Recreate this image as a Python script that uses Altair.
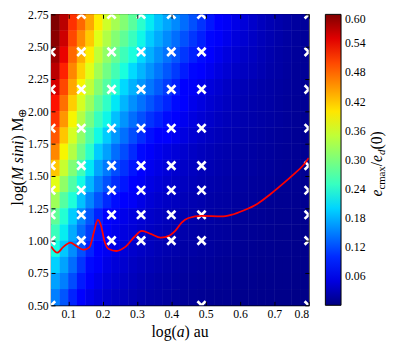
import altair as alt
import pandas as pd

# ---- heat-map grid (cell edges) ----
x_edges = [0.05, 0.075, 0.1, 0.125, 0.15, 0.175, 0.2, 0.225, 0.25, 0.275, 0.3,
           0.325, 0.35, 0.375, 0.4, 0.425, 0.45, 0.475, 0.5, 0.525, 0.55, 0.575,
           0.6, 0.625, 0.65, 0.675, 0.7, 0.725, 0.75, 0.775, 0.8]
y_edges = [2.75, 2.625, 2.5, 2.375, 2.25, 2.125, 2.0, 1.875, 1.75, 1.625, 1.5,
           1.375, 1.25, 1.125, 1.0, 0.875, 0.75, 0.625, 0.5]

# values of e_cmax/e_d(0), rows from top (2.75) to bottom (0.5)
row01 = [0.6,0.57,0.515,0.48,0.44,0.395,0.36,0.33,0.305,0.275,0.24,0.213,0.19,0.173,0.156,0.139,0.122,0.105,0.088,0.071,0.062,0.054,0.046,0.039,0.032,0.027,0.023,0.019,0.016,0.014]
row02 = [0.595,0.56,0.5,0.458,0.418,0.372,0.338,0.306,0.28,0.251,0.221,0.196,0.175,0.157,0.14,0.123,0.107,0.093,0.078,0.064,0.056,0.048,0.042,0.036,0.03,0.026,0.022,0.018,0.015,0.013]
row03 = [0.585,0.545,0.48,0.435,0.395,0.35,0.315,0.283,0.254,0.228,0.202,0.179,0.159,0.142,0.125,0.107,0.093,0.081,0.068,0.057,0.049,0.043,0.037,0.033,0.028,0.024,0.02,0.017,0.014,0.012]
row04 = [0.57,0.525,0.46,0.413,0.373,0.328,0.293,0.259,0.228,0.204,0.182,0.162,0.144,0.126,0.109,0.091,0.078,0.068,0.058,0.05,0.043,0.037,0.033,0.03,0.026,0.022,0.019,0.016,0.013,0.012]
row05 = [0.555,0.5,0.44,0.39,0.35,0.305,0.27,0.235,0.203,0.18,0.163,0.145,0.128,0.11,0.093,0.075,0.063,0.056,0.048,0.042,0.036,0.031,0.028,0.025,0.022,0.02,0.017,0.015,0.013,0.011]
row06 = [0.535,0.475,0.415,0.365,0.323,0.278,0.245,0.211,0.182,0.16,0.142,0.125,0.11,0.096,0.081,0.066,0.056,0.05,0.043,0.038,0.033,0.029,0.026,0.023,0.021,0.019,0.016,0.014,0.012,0.011]
row07 = [0.515,0.45,0.39,0.34,0.295,0.25,0.22,0.188,0.162,0.14,0.122,0.105,0.093,0.081,0.07,0.058,0.05,0.044,0.039,0.034,0.03,0.027,0.024,0.022,0.02,0.018,0.016,0.014,0.012,0.01]
row08 = [0.49,0.42,0.365,0.315,0.268,0.222,0.195,0.164,0.141,0.12,0.101,0.084,0.075,0.066,0.058,0.05,0.043,0.038,0.034,0.03,0.027,0.025,0.022,0.02,0.018,0.016,0.014,0.013,0.011,0.01]
row09 = [0.46,0.39,0.34,0.29,0.24,0.195,0.17,0.14,0.12,0.1,0.08,0.064,0.057,0.051,0.046,0.041,0.036,0.032,0.029,0.026,0.024,0.022,0.02,0.018,0.016,0.015,0.013,0.012,0.011,0.01]
row10 = [0.42,0.355,0.304,0.256,0.211,0.171,0.146,0.12,0.104,0.087,0.071,0.058,0.052,0.046,0.041,0.037,0.033,0.029,0.027,0.024,0.022,0.02,0.018,0.017,0.015,0.014,0.012,0.011,0.01,0.01]
row11 = [0.375,0.315,0.268,0.223,0.183,0.148,0.123,0.101,0.088,0.075,0.062,0.052,0.046,0.041,0.037,0.033,0.03,0.027,0.024,0.022,0.02,0.018,0.017,0.015,0.014,0.013,0.011,0.011,0.01,0.009]
row12 = [0.325,0.272,0.231,0.189,0.154,0.124,0.099,0.082,0.071,0.062,0.053,0.045,0.04,0.036,0.033,0.029,0.026,0.024,0.021,0.019,0.018,0.016,0.015,0.014,0.012,0.011,0.01,0.01,0.009,0.009]
row13 = [0.28,0.235,0.195,0.155,0.125,0.095,0.072,0.062,0.055,0.049,0.044,0.039,0.035,0.031,0.028,0.025,0.023,0.021,0.019,0.017,0.016,0.014,0.013,0.012,0.011,0.01,0.009,0.009,0.008,0.008]
row14 = [0.253,0.214,0.176,0.139,0.11,0.085,0.066,0.057,0.05,0.045,0.04,0.035,0.031,0.028,0.025,0.023,0.021,0.019,0.017,0.016,0.015,0.013,0.012,0.011,0.01,0.009,0.008,0.008,0.007,0.007]
row15 = [0.225,0.193,0.158,0.123,0.095,0.075,0.06,0.052,0.046,0.04,0.036,0.032,0.028,0.025,0.023,0.02,0.019,0.017,0.016,0.014,0.013,0.012,0.011,0.01,0.009,0.009,0.008,0.008,0.007,0.007]
row16 = [0.198,0.171,0.139,0.106,0.08,0.064,0.053,0.046,0.041,0.035,0.031,0.028,0.025,0.022,0.02,0.017,0.016,0.015,0.014,0.012,0.011,0.01,0.009,0.009,0.008,0.008,0.007,0.007,0.006,0.006]
row17 = [0.17,0.15,0.12,0.09,0.065,0.055,0.047,0.041,0.036,0.031,0.027,0.024,0.021,0.019,0.017,0.015,0.014,0.013,0.012,0.011,0.01,0.009,0.008,0.008,0.007,0.007,0.006,0.006,0.005,0.005]
row18 = [0.15,0.125,0.095,0.07,0.055,0.047,0.04,0.035,0.031,0.027,0.024,0.021,0.019,0.017,0.015,0.013,0.012,0.011,0.01,0.009,0.009,0.008,0.007,0.007,0.006,0.006,0.005,0.005,0.004,0.004]
heat_rows = [row01, row02, row03, row04, row05, row06, row07, row08, row09,
             row10, row11, row12, row13, row14, row15, row16, row17, row18]

# ---- simulation markers (white crosses) ----
marker_cols = [0.05, 0.138, 0.226, 0.312, 0.40, 0.488, 0.8]
marker_rows = [2.46, 2.17, 1.87, 1.58, 1.39, 1.20, 1.00]
top_row_y = 2.75
top_row_cols = [0.138, 0.226, 0.312, 0.40, 0.488, 0.8]
bottom_row_y = 0.5
bottom_row_cols = [0.05, 0.488, 0.8]

# ---- red curve ----
curve_x = [0.05, 0.068, 0.085, 0.106, 0.125, 0.145, 0.162, 0.174, 0.186, 0.196, 0.205,
           0.218, 0.24, 0.265, 0.293, 0.314, 0.34, 0.369, 0.395, 0.412, 0.43, 0.45,
           0.488, 0.546, 0.574, 0.612, 0.651, 0.689, 0.727, 0.756, 0.784, 0.8]
curve_y = [0.955, 0.907, 0.95, 0.985, 0.955, 0.93, 0.95, 1.06, 1.16, 1.11, 1.0,
           0.935, 0.92, 0.95, 1.03, 1.075, 1.053, 1.023, 1.04, 1.078, 1.14, 1.175,
           1.192, 1.187, 1.199, 1.235, 1.286, 1.361, 1.445, 1.513, 1.583, 1.64]

# ---- axes ----
x_ticks = [0.1, 0.2, 0.3, 0.4, 0.5, 0.6, 0.7, 0.8]
y_ticks = [0.5, 0.75, 1.0, 1.25, 1.5, 1.75, 2.0, 2.25, 2.5, 2.75]
x_title_parts = ["log(", "a", ") au"]
y_title_parts = ["log(", "M sini", ") M", "⊕"]

# ---- colour bar ----
cbar_ticks = [0.06, 0.12, 0.18, 0.24, 0.30, 0.36, 0.42, 0.48, 0.54, 0.60]
jet_stops = [0.0, 0.066, 0.075, 0.204, 0.21, 0.225, 0.384, 0.39, 0.396, 0.534, 0.546, 0.6]
jet_colors = ["#000080", "#0000ff", "#0000ff", "#00dbff", "#00e6f7", "#15ffe2",
              "#efff08", "#f7f600", "#ffec00", "#ff1300", "#e80000", "#800000"]
cbar_title_parts = ["e", "cmax", "/", "e", "d", "(0)"]

cells = []
for j, row in enumerate(heat_rows):
    for i, v in enumerate(row):
        cells.append({"x0": x_edges[i], "x1": x_edges[i + 1],
                      "y0": y_edges[j + 1], "y1": y_edges[j], "v": v})
cells = pd.DataFrame(cells)

pts = [{"x": c, "y": r} for r in marker_rows for c in marker_cols]
pts += [{"x": c, "y": top_row_y} for c in top_row_cols]
pts += [{"x": c, "y": bottom_row_y} for c in bottom_row_cols]
pts = pd.DataFrame(pts)

curve = pd.DataFrame({"x": curve_x, "y": curve_y})

FONT = "Liberation Serif"
xscale = alt.Scale(domain=[0.05, 0.8], nice=False, zero=False)
yscale = alt.Scale(domain=[0.5, 2.75], nice=False, zero=False)
cscale = alt.Scale(domain=jet_stops, range=jet_colors, interpolate="rgb", clamp=True)

label_x = alt.Axis(values=x_ticks, format=".1f", title=None, labelPadding=3,
                   labelOverlap=False, ticks=False)
label_y = alt.Axis(values=y_ticks, format=".2f", title=None, labelPadding=3,
                   labelOverlap=False, ticks=False)


def tick_axis(vals, orient):
    # inward-pointing ticks (matplotlib style): an axis moved 4px inside the frame
    return alt.Axis(values=vals, orient=orient, offset=-4, labels=False, title=None,
                    ticks=True, tickSize=4, tickColor="black", tickWidth=1,
                    domain=False, grid=False, zindex=2)


cbar_legend = alt.Legend(type="gradient", title=None, orient="right", offset=16,
                         direction="vertical",
                         gradientLength=297, gradientThickness=16,
                         gradientStrokeColor="black", gradientStrokeWidth=1,
                         values=cbar_ticks, format=".2f", labelOverlap=False,
                         labelFont=FONT, labelFontSize=12, labelOffset=4,
                         labelColor="black")

heat_base = alt.Chart(cells).mark_rect(strokeWidth=0).encode(
    x=alt.X("x0:Q", scale=xscale, axis=label_x),
    x2="x1:Q",
    y=alt.Y("y0:Q", scale=yscale, axis=label_y),
    y2="y1:Q",
    color=alt.Color("v:Q", scale=cscale, legend=cbar_legend),
)
# the cells are painted twice so that anti-aliased seams between them vanish
heat_fill = alt.Chart(cells).mark_rect(strokeWidth=0).encode(
    x=alt.X("x0:Q", scale=xscale, axis=None),
    x2="x1:Q",
    y=alt.Y("y0:Q", scale=yscale, axis=None),
    y2="y1:Q",
    color=alt.Color("v:Q", scale=cscale, legend=cbar_legend),
)

markers = alt.Chart(pts).mark_point(
    shape="M-1,-1L1,1M-1,1L1,-1", filled=False, stroke="white", strokeWidth=2.7,
    size=70, opacity=1, clip=True
).encode(x=alt.X("x:Q", scale=xscale, axis=tick_axis(x_ticks, "bottom")),
         y=alt.Y("y:Q", scale=yscale, axis=tick_axis(y_ticks, "left")))

line = alt.Chart(curve).mark_line(color="#ff0000", strokeWidth=1.8, interpolate="monotone",
                                  clip=True).encode(
    x=alt.X("x:Q", scale=xscale, axis=tick_axis(x_ticks, "top")),
    y=alt.Y("y:Q", scale=yscale, axis=tick_axis(y_ticks, "right")))

one = pd.DataFrame({"k": [0]})


def text_piece(txt, fs, ital, tx, ty, angle=0):
    return alt.Chart(one).mark_text(
        text=txt, font=FONT, fontSize=fs, fontStyle="italic" if ital else "normal",
        angle=angle, align="left", baseline="alphabetic", color="black"
    ).encode(x=alt.value(tx), y=alt.value(ty))


texts = [
    # x-axis title: log(a) au
    text_piece(x_title_parts[0], 16, False, 102.5, 329),
    text_piece(x_title_parts[1], 16, True, 128.3, 329),
    text_piece(x_title_parts[2], 16, False, 136.3, 329),
    # y-axis title: log(M sini) M_⊕ (rotated)
    text_piece(y_title_parts[0], 16, False, -29, 195.0, 270),
    text_piece(y_title_parts[1], 16, True, -29, 169.2, 270),
    text_piece(y_title_parts[2], 16, False, -29, 128.8, 270),
    text_piece(y_title_parts[3], 11, False, -26, 105.3, 270),
    # colour-bar title: e_cmax / e_d(0) (rotated)
    text_piece(cbar_title_parts[0], 16, True, 338, 186.0, 270),
    text_piece(cbar_title_parts[1], 11, False, 341, 178.9, 270),
    text_piece(cbar_title_parts[2], 16, False, 338, 155.1, 270),
    text_piece(cbar_title_parts[3], 16, True, 338, 150.6, 270),
    text_piece(cbar_title_parts[4], 11, True, 341, 143.5, 270),
    text_piece(cbar_title_parts[5], 16, False, 338, 138.0, 270),
]

chart = alt.layer(heat_base, heat_fill, markers, line, *texts).resolve_axis(
    x="independent", y="independent"
).properties(
    width=263, height=297,
    autosize=alt.AutoSizeParams(type="none"),
    padding={"left": 44, "top": 3, "right": 84, "bottom": 36},
).configure_view(stroke="black", strokeWidth=1.2).configure_axis(
    labelFont=FONT, labelFontSize=12, labelColor="black", labelOverlap=False,
    domain=False, grid=False,
)

chart.save("out.html", embed_options={"renderer": "svg", "actions": False})
